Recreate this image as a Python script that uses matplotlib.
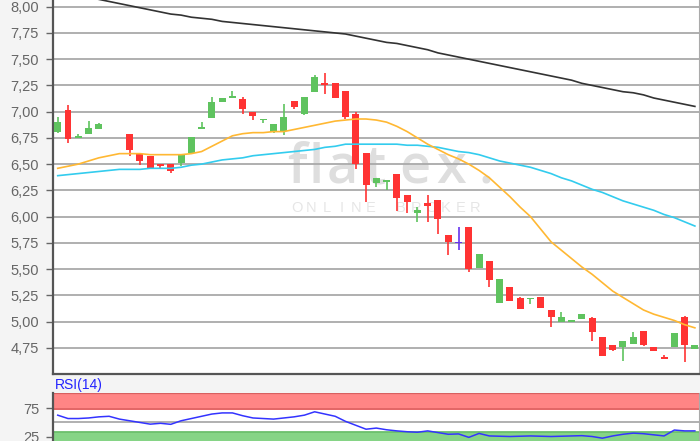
"""Candlestick chart with moving averages and RSI panel."""
import numpy as np
import matplotlib
matplotlib.use("Agg")
import matplotlib.pyplot as plt

# daily candles (open, high, low, close)
opens = [6.81, 7.02, 6.75, 6.79, 6.83, 6.94, 6.72, 6.79, 6.60, 6.58,
         6.50, 6.50, 6.51, 6.61, 6.83, 6.94, 7.09, 7.13, 7.12, 7.00,
         6.92, 6.81, 6.82, 7.10, 6.98, 7.19, 7.27, 7.27, 7.20, 6.98,
         6.61, 6.32, 6.33, 6.41, 6.21, 6.03, 6.13, 6.16, 5.82, 5.75,
         5.90, 5.51, 5.58, 5.18, 5.33, 5.22, 5.21, 5.23, 5.11, 5.00,
         5.00, 5.02, 5.03, 4.85, 4.78, 4.76, 4.79, 4.91, 4.76, 4.66,
         4.76, 5.04, 4.74]
highs = [6.95, 7.06, 6.79, 6.91, 6.89, 6.94, 6.72, 6.79, 6.60, 6.58,
         6.50, 6.50, 6.60, 6.76, 6.90, 7.14, 7.13, 7.20, 7.14, 7.00,
         6.93, 6.88, 7.07, 7.10, 7.14, 7.35, 7.37, 7.27, 7.20, 7.00,
         6.61, 6.37, 6.35, 6.41, 6.21, 6.09, 6.21, 6.16, 5.82, 5.90,
         5.90, 5.64, 5.58, 5.41, 5.33, 5.23, 5.22, 5.23, 5.11, 5.09,
         5.01, 5.07, 5.04, 4.85, 4.78, 4.81, 4.90, 4.91, 4.76, 4.68,
         4.89, 5.05, 4.78]
lows = [6.80, 6.70, 6.75, 6.79, 6.83, 6.94, 6.72, 6.58, 6.49, 6.46,
        6.46, 6.42, 6.48, 6.61, 6.83, 6.94, 7.09, 7.13, 6.98, 6.92,
        6.89, 6.80, 6.78, 7.03, 6.97, 7.19, 7.17, 7.13, 6.93, 6.45,
        6.14, 6.28, 6.25, 6.05, 6.03, 5.95, 5.95, 5.83, 5.63, 5.68,
        5.47, 5.51, 5.33, 5.18, 5.20, 5.12, 5.17, 5.13, 4.95, 5.00,
        5.00, 5.02, 4.81, 4.67, 4.72, 4.62, 4.79, 4.77, 4.72, 4.64,
        4.76, 4.61, 4.74]
closes = [6.90, 6.74, 6.77, 6.84, 6.88, 6.94, 6.72, 6.63, 6.53, 6.46,
          6.48, 6.43, 6.60, 6.76, 6.85, 7.09, 7.13, 7.15, 7.03, 6.96,
          6.93, 6.88, 6.95, 7.04, 7.14, 7.33, 7.25, 7.13, 6.95, 6.50,
          6.30, 6.37, 6.35, 6.18, 6.14, 6.06, 6.10, 5.98, 5.76, 5.75,
          5.50, 5.64, 5.40, 5.41, 5.20, 5.12, 5.22, 5.13, 5.04, 5.04,
          5.01, 5.07, 4.90, 4.67, 4.73, 4.81, 4.85, 4.78, 4.72, 4.64,
          4.89, 4.78, 4.78]

# moving averages
ma_long = [8.14, 8.12, 8.10, 8.09, 8.07, 8.05, 8.03, 8.01, 7.99, 7.97,
           7.95, 7.93, 7.92, 7.90, 7.89, 7.88, 7.86, 7.85, 7.84, 7.83,
           7.82, 7.81, 7.80, 7.79, 7.78, 7.77, 7.76, 7.75, 7.74, 7.72,
           7.70, 7.68, 7.66, 7.65, 7.63, 7.61, 7.59, 7.56, 7.54, 7.52,
           7.50, 7.48, 7.46, 7.44, 7.42, 7.40, 7.38, 7.36, 7.34, 7.32,
           7.30, 7.27, 7.25, 7.23, 7.21, 7.19, 7.18, 7.16, 7.13, 7.11,
           7.09, 7.07, 7.05]
ma_mid = [6.39, 6.40, 6.41, 6.42, 6.43, 6.44, 6.45, 6.45, 6.45, 6.46,
          6.46, 6.46, 6.47, 6.49, 6.50, 6.52, 6.54, 6.55, 6.56, 6.58,
          6.59, 6.60, 6.61, 6.62, 6.63, 6.64, 6.66, 6.67, 6.69, 6.69,
          6.69, 6.69, 6.69, 6.69, 6.68, 6.68, 6.67, 6.66, 6.64, 6.62,
          6.61, 6.59, 6.56, 6.53, 6.51, 6.49, 6.47, 6.44, 6.41, 6.37,
          6.34, 6.30, 6.26, 6.23, 6.19, 6.15, 6.12, 6.09, 6.06, 6.02,
          5.99, 5.95, 5.91]
ma_short = [6.46, 6.48, 6.50, 6.53, 6.56, 6.58, 6.60, 6.60, 6.60, 6.59,
            6.59, 6.59, 6.59, 6.60, 6.62, 6.67, 6.72, 6.77, 6.79, 6.80,
            6.80, 6.81, 6.81, 6.83, 6.85, 6.87, 6.89, 6.91, 6.92, 6.93,
            6.93, 6.92, 6.90, 6.86, 6.81, 6.75, 6.69, 6.64, 6.59, 6.55,
            6.50, 6.44, 6.37, 6.28, 6.19, 6.09, 6.00, 5.88, 5.76, 5.68,
            5.60, 5.52, 5.45, 5.37, 5.29, 5.23, 5.17, 5.11, 5.07, 5.04,
            5.01, 4.97, 4.94]

rsi = [63, 57, 57, 58, 60, 61, 56, 53, 50, 47,
       48.5, 46.7, 53, 57, 61, 65, 67, 67, 62, 58,
       57, 56, 58, 60, 63, 69, 65, 61, 52, 45,
       38, 40, 37, 35, 33.5, 32.6, 35, 32, 29, 29.6,
       23.5, 30.5, 26, 25.5, 25, 25.5, 26, 25.5, 25, 25.5,
       26, 26.5, 25, 22, 26, 29, 31, 30, 28, 26,
       36.5, 35, 35]

price_ticks = [4.75, 5.00, 5.25, 5.50, 5.75, 6.00, 6.25, 6.50, 6.75,
               7.00, 7.25, 7.50, 7.75, 8.00]

GREEN = '#5fc35f'
RED = '#ff3333'
FLAT = '#6633ee'

fig = plt.figure(figsize=(7.0, 4.41), dpi=100, facecolor='#f4f4f4')
ax = fig.add_axes([53 / 700, 67 / 441, 646 / 700, 374 / 441])
rx = fig.add_axes([53 / 700, 0, 646 / 700, 48.3 / 441])

x = np.arange(len(opens))
o = np.array(opens)
c = np.array(closes)
cols = [GREEN if cc > oo else (RED if cc < oo else FLAT) for oo, cc in zip(o, c)]

# white plot background drawn under the watermark
fig.patches.append(plt.Rectangle((53 / 700, 67 / 441), 646 / 700, 374 / 441,
                                 transform=fig.transFigure, facecolor='white',
                                 edgecolor='none', zorder=-2))

# watermark, letter by letter (figure pixel positions)
logo = 'flatex.'
logo_x = [297, 316, 342, 376, 415, 451, 486]
for ch, px in zip(logo, logo_x):
    fig.text(px / 700, 1 - 183 / 441, ch, ha='center', va='baseline',
             fontsize=39, color='#dedede', family='Open Sans',
             weight='semibold', zorder=-1)
sub = 'ONLINE BROKER'
for k, ch in enumerate(sub):
    fig.text((296.7 + k * 14.86) / 700, 1 - 212 / 441, ch, ha='center',
             va='baseline', fontsize=10.5, color='#e6e6e6',
             family='Liberation Sans', zorder=-1)

for t in price_ticks:
    ax.axhline(t, color='#a9a9a9', lw=1.3, zorder=1)

ax.vlines(x, lows, highs, colors=cols, lw=1.2, zorder=3)
heights = np.abs(c - o)
heights[heights < 0.008] = 0.008
ax.bar(x, heights, bottom=np.minimum(o, c) - np.where(c == o, 0.004, 0),
       width=0.68, color=cols, zorder=4, linewidth=0)

ax.plot(x, ma_long, color='#333333', lw=1.2, zorder=5)
ax.plot(x, ma_mid, color='#33ccee', lw=1.2, zorder=5)
ax.plot(x, ma_short, color='#ffb833', lw=1.2, zorder=5)

ax.set_xlim(-0.46, 62.4)
ax.set_ylim(4.50, 8.064)
ax.set_yticks(price_ticks)
ax.set_yticklabels([('%.2f' % t).replace('.', ',') for t in price_ticks])
ax.set_xticks([])
ax.tick_params(axis='y', length=5, width=1, color='#666666', pad=5,
               labelsize=10.5, labelcolor='#666666')
for lab in ax.get_yticklabels():
    lab.set_family('Liberation Sans')
ax.spines['top'].set_visible(False)
ax.spines['left'].set_color('#555555')
ax.spines['left'].set_linewidth(1.6)
ax.spines['bottom'].set_color('#555555')
ax.spines['bottom'].set_linewidth(1.6)
ax.spines['right'].set_color('#aaaaaa')
ax.set_facecolor('none')

# RSI panel
rx.set_facecolor('white')
rx.axhspan(73, 103, color='#ff8585', lw=0, zorder=1)
rx.axhline(73.3, color='#e06464', lw=1.3, zorder=2)
rx.axhline(102.2, color='#d86060', lw=1.6, zorder=2)
rx.axhspan(0, 33.7, color='#86d486', lw=0, zorder=1)
rx.axhline(33.4, color='#6cbf6c', lw=1.3, zorder=2)
rx.axhline(50, color='#aaaaaa', lw=1.3, zorder=2)
rx.plot(x, rsi, color='#3333ff', lw=1.1, zorder=3)
rx.set_xlim(-0.46, 62.4)
rx.set_ylim(17, 103)
rx.set_xticks([])
rx.set_yticks([25, 75])
rx.tick_params(axis='y', length=5, width=1, color='#666666', pad=5,
               labelsize=10.5, labelcolor='#666666')
for lab in rx.get_yticklabels():
    lab.set_family('Liberation Sans')
for s in ['top', 'bottom']:
    rx.spines[s].set_visible(False)
rx.spines['left'].set_color('#555555')
rx.spines['left'].set_linewidth(1.6)
rx.spines['right'].set_color('#aaaaaa')

fig.text(55 / 700, 1 - 385 / 441, 'RSI(14)', color='#2222ff', fontsize=10,
         family='Liberation Sans', va='center', ha='left')

plt.savefig('out.png', dpi=100, facecolor=fig.get_facecolor())
